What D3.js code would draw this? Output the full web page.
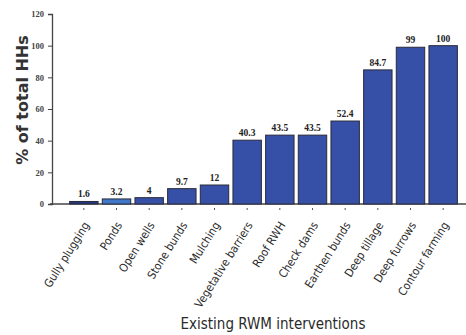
<!DOCTYPE html>
<html><head><meta charset="utf-8">
<script src="https://cdn.jsdelivr.net/npm/d3@7"></script>
<style>body{margin:0;background:#fff}svg{display:block}</style>
</head><body>
<script>
const categories = ["Gully plugging","Ponds","Open wells","Stone bunds","Mulching","Vegetative barriers","Roof RWH","Check dams","Earthen bunds","Deep tillage","Deep furrows","Contour farming"];
const values = [1.6,3.2,4,9.7,12,40.3,43.5,43.5,52.4,84.7,99,100];
const valueLabels = ["1.6","3.2","4","9.7","12","40.3","43.5","43.5","52.4","84.7","99","100"];
const yTicks = [0,20,40,60,80,100,120];
const barColors = ["#26367f","#3f78c9","#3550a6","#3550a6","#3550a6","#3550a6","#3550a6","#3550a6","#3550a6","#3550a6","#3550a6","#3550a6"];

const W=466,H=335;
const svg=d3.select("body").append("svg").attr("width",W).attr("height",H);
const x=d3.scaleBand().domain(categories).range([68,459]).paddingInner(0.13).paddingOuter(0.05);
const y=d3.scaleLinear().domain([0,120]).range([204,14]);

svg.append("line").attr("x1",50).attr("x2",466).attr("y1",y(0)).attr("y2",y(0)).attr("stroke","#444").attr("stroke-width",1.3);
const ya=svg.append("g").attr("transform","translate(52,0)").call(d3.axisLeft(y).tickValues(yTicks).tickSize(4).tickPadding(4));
ya.select(".domain").attr("stroke","#444").attr("stroke-width",1.3);
ya.selectAll(".tick line").attr("stroke","#444");
ya.selectAll("text").attr("font-family","Liberation Serif").attr("font-weight","bold").attr("font-size","8.5px").attr("fill","#444");

svg.selectAll("rect.bar").data(categories).enter().append("rect")
 .attr("x",d=>x(d)).attr("width",x.bandwidth())
 .attr("y",(d,i)=>y(values[i])).attr("height",(d,i)=>y(0)-y(values[i]))
 .attr("fill",(d,i)=>barColors[i]).attr("stroke","#2a2a3a").attr("stroke-width",1);

svg.selectAll("text.val").data(categories).enter().append("text")
 .attr("x",d=>x(d)+x.bandwidth()/2).attr("y",(d,i)=>y(values[i])-4)
 .attr("text-anchor","middle").attr("font-family","Liberation Serif").attr("font-weight","bold")
 .attr("font-size","9.5px").attr("fill","#222").text((d,i)=>valueLabels[i]);

const xa=svg.append("g").attr("transform","translate(0,206)").call(d3.axisBottom(x).tickSize(0).tickPadding(0));
xa.select(".domain").remove();
xa.selectAll(".tick").append("line").attr("y1",2).attr("y2",4).attr("stroke","#555");
xa.selectAll(".tick text").attr("font-family","DejaVu Sans Condensed").attr("font-size","11.5px").attr("fill","#2a2a2a")
 .attr("text-anchor","end").attr("dy","0").attr("transform","translate(6,19) rotate(-58)");

svg.append("text").attr("transform","translate(28,100) rotate(-90)").attr("text-anchor","middle")
 .attr("font-family","DejaVu Sans").attr("font-weight","bold").attr("font-size","16px").attr("fill","#333").text("% of total HHs");
svg.append("text").attr("x",273).attr("y",329).attr("text-anchor","middle")
 .attr("font-family","DejaVu Sans Condensed").attr("font-size","15px").attr("fill","#2a2a2a").text("Existing RWM interventions");
</script>
</body></html>
